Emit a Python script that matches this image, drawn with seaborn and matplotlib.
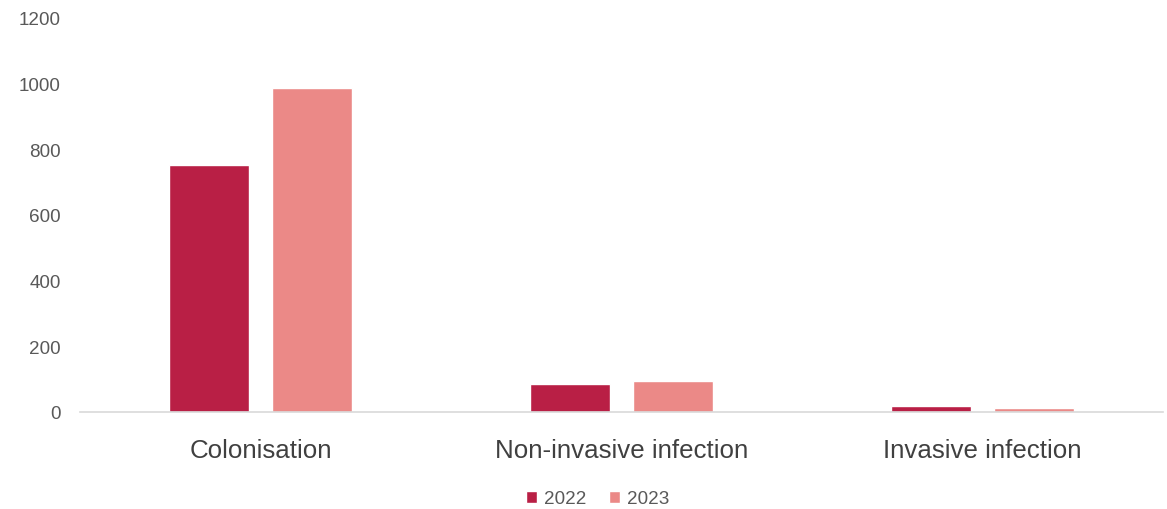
import matplotlib
matplotlib.use("Agg")
import matplotlib.pyplot as plt
import seaborn as sns
import pandas as pd

# valores
categorias = ["Colonisation", "Non-invasive infection", "Invasive infection"]
anos = ["2022", "2023"]
valores_2022 = [752, 85, 18]
valores_2023 = [986, 94, 12]
cores = {"2022": "#B91F45", "2023": "#EB8987"}

df = pd.DataFrame({
    "categoria": categorias * 2,
    "ano": ["2022"] * 3 + ["2023"] * 3,
    "valor": valores_2022 + valores_2023,
})

sns.set_style("white")
plt.rcParams["font.family"] = ["Liberation Sans", "DejaVu Sans"]

fig = plt.figure(figsize=(11.67, 5.10), dpi=100)
ax = fig.add_axes([80 / 1167, 1 - 413 / 510, 1083 / 1167, (413 - 19) / 510])

sns.barplot(data=df, x="categoria", y="valor", hue="ano", hue_order=anos,
            palette=cores, width=0.571, gap=0.215, saturation=1, ax=ax)

ax.set_xlim(-0.5, 2.5)
ax.set_ylim(0, 1200)
ax.set_yticks(range(0, 1201, 200))
ax.set_xlabel("")
ax.set_ylabel("")
ax.tick_params(axis="y", labelsize=13.6, colors="#595959", length=0, pad=14)
ax.tick_params(axis="x", labelsize=18.6, colors="#404040", length=0, pad=19)
for s in ["top", "right", "left"]:
    ax.spines[s].set_visible(False)
ax.spines["bottom"].set_color("#D9D9D9")
ax.spines["bottom"].set_linewidth(1.2)

ax.legend(loc="center", bbox_to_anchor=(0.512, 0.02), bbox_transform=fig.transFigure,
          ncol=2, frameon=False, fontsize=13.6, handlelength=0.6, handleheight=0.6,
          handletextpad=0.35, columnspacing=1.2, labelcolor="#595959")

fig.savefig("out.png", dpi=100)
